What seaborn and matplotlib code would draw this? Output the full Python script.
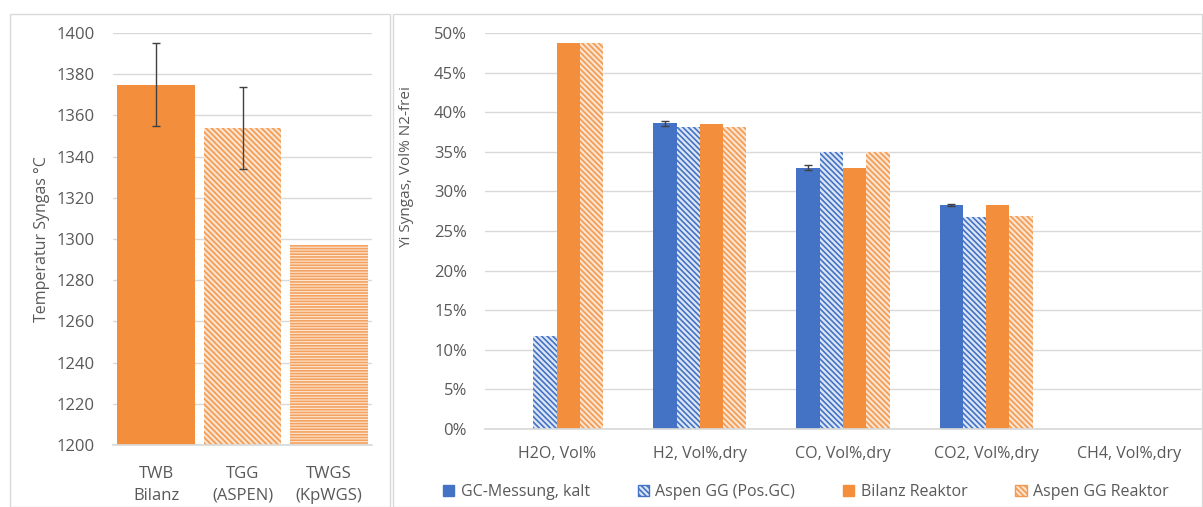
import numpy as np
import pandas as pd
import matplotlib
matplotlib.use("Agg")
import matplotlib.pyplot as plt
import seaborn as sns
from matplotlib.patches import Rectangle, Patch

# left panel data
temp_labels = ["TWB\nBilanz", "TGG\n(ASPEN)", "TWGS\n(KpWGS)"]
temp_values = [1375, 1354, 1297]
temp_err = [20, 20, 0]

# right panel data
components = ["H2O, Vol%", "H2, Vol%,dry", "CO, Vol%,dry", "CO2, Vol%,dry", "CH4, Vol%,dry"]
series_names = ["GC-Messung, kalt", "Aspen GG (Pos.GC)", "Bilanz Reaktor", "Aspen GG Reaktor"]
gc_messung = [0.0, 0.386, 0.330, 0.283, 0.0]
aspen_gg = [0.117, 0.381, 0.350, 0.268, 0.0]
bilanz = [0.488, 0.385, 0.329, 0.283, 0.0]
aspen_reaktor = [0.488, 0.381, 0.350, 0.269, 0.0]
gc_err = [0.0, 0.003, 0.003, 0.001, 0.0]

BLUE = "#4472C4"
ORANGE = "#F28E3C"
TEXT = "#595959"
GRID = "#D9D9D9"

sns.set_theme(style="white")
plt.rcParams["font.family"] = ["Open Sans", "DejaVu Sans"]
plt.rcParams["hatch.linewidth"] = 1.2

fig = plt.figure(figsize=(12.03, 5.07), dpi=100)
W, H = 1203, 507

# panel frames
fig.patches.append(Rectangle((10 / W, 0), 380 / W, 1 - 14 / H, transform=fig.transFigure,
                             fill=False, edgecolor="#D9D9D9", lw=1))
fig.patches.append(Rectangle((393 / W, 0), 809 / W, 1 - 14 / H, transform=fig.transFigure,
                             fill=False, edgecolor="#D9D9D9", lw=1))

def style_axis(ax):
    sns.despine(ax=ax, left=True, top=True, right=True)
    ax.spines["bottom"].set_color(GRID)
    ax.yaxis.grid(True, color=GRID, lw=1)
    ax.set_axisbelow(True)
    ax.tick_params(length=0, colors=TEXT, labelsize=12)
    ax.set_xlabel("")
    ax.set_ylabel("")

# ---- left chart
ax1 = fig.add_axes([113 / W, 1 - 445 / H, 259 / W, 412 / H])
df_t = pd.DataFrame({"label": temp_labels, "value": temp_values})
sns.barplot(data=df_t, x="label", y="value", ax=ax1, width=0.9, color=ORANGE, saturation=1)
styles_left = [
    dict(facecolor=ORANGE, edgecolor=ORANGE, hatch=None),
    dict(facecolor="#FBE3CF", edgecolor="#F29A50", hatch="\\\\\\\\\\\\"),
    dict(facecolor="#FCE6D2", edgecolor="#F4A261", hatch="------"),
]
for p, st in zip(ax1.patches, styles_left):
    p.set_facecolor(st["facecolor"])
    p.set_edgecolor(st["edgecolor"])
    p.set_linewidth(0)
    if st["hatch"]:
        p.set_hatch(st["hatch"])
xs = [p.get_x() + p.get_width() / 2 for p in ax1.patches]
for x, v, e in zip(xs, temp_values, temp_err):
    if e:
        ax1.errorbar(x, v, yerr=e, color="#404040", lw=1, capsize=3, capthick=1)
ax1.set_xlim(-0.5, len(temp_labels) - 0.5)
ax1.set_ylim(1200, 1400)
ax1.set_yticks(np.arange(1200, 1401, 20))
style_axis(ax1)
ax1.set_ylabel("Temperatur Syngas °C", color=TEXT, fontsize=11.5, labelpad=5)
ax1.tick_params(axis="y", pad=13)
ax1.tick_params(axis="x", pad=15)
for t in ax1.get_xticklabels():
    t.set_linespacing(1.5)

# ---- right chart
ax2 = fig.add_axes([485 / W, 1 - 429 / H, 716 / W, 396 / H])
df = pd.DataFrame({
    "component": components * 4,
    "series": np.repeat(series_names, len(components)),
    "value": gc_messung + aspen_gg + bilanz + aspen_reaktor,
})
sns.barplot(data=df, x="component", y="value", hue="series", ax=ax2, width=0.65,
            palette=[BLUE, BLUE, ORANGE, ORANGE], saturation=1, legend=False)
styles_right = [
    dict(facecolor=BLUE, edgecolor=BLUE, hatch=None),
    dict(facecolor="#DCE6F4", edgecolor=BLUE, hatch="\\\\\\\\\\\\"),
    dict(facecolor=ORANGE, edgecolor=ORANGE, hatch=None),
    dict(facecolor="#FBE3CF", edgecolor="#F29A50", hatch="\\\\\\\\\\\\"),
]
for cont, st in zip(ax2.containers, styles_right):
    for p in cont:
        p.set_facecolor(st["facecolor"])
        p.set_edgecolor(st["edgecolor"])
        p.set_linewidth(0)
        if st["hatch"]:
            p.set_hatch(st["hatch"])
gc_x = [p.get_x() + p.get_width() / 2 for p in ax2.containers[0]]
for x, v, e in zip(gc_x, gc_messung, gc_err):
    if e:
        ax2.errorbar(x, v, yerr=e, color="#404040", lw=1, capsize=3, capthick=1)
ax2.set_xlim(-0.5, len(components) - 0.5)
ax2.set_ylim(0, 0.5)
ax2.set_yticks(np.arange(0, 0.51, 0.05))
ax2.yaxis.set_major_formatter(matplotlib.ticker.PercentFormatter(1.0, decimals=0))
style_axis(ax2)
ax2.tick_params(axis="y", pad=13)
ax2.tick_params(axis="x", pad=12, labelsize=11.5)
fig.text(407 / W, 1 - 167 / H, "Yi Syngas, Vol% N2-frei", rotation=90, ha="center",
         va="center", color=TEXT, fontsize=11)

handles = [Patch(**st) for st in styles_right]
fig.legend(handles, series_names, loc="center", bbox_to_anchor=(806 / W, 1 - 492 / H),
           ncol=4, frameon=False, fontsize=11.5, labelcolor=TEXT, handlelength=0.7,
           handleheight=0.7, columnspacing=3.0, handletextpad=0.4)

fig.savefig("out.png", dpi=100, facecolor="white")
